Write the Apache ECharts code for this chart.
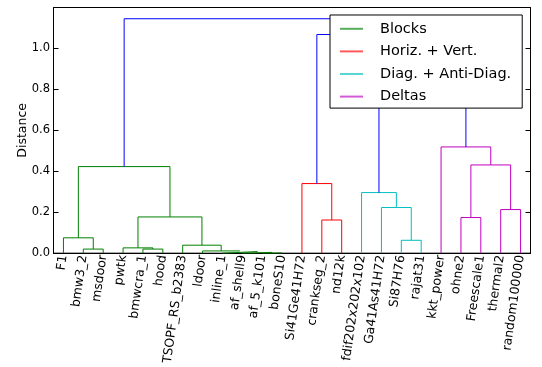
<!DOCTYPE html>
<html>
<head>
<meta charset="utf-8">
<script src="https://cdn.jsdelivr.net/npm/echarts@6/dist/echarts.min.js"></script>
<style>
  html, body { margin: 0; padding: 0; background: #fff; }
  #chart { width: 542px; height: 367px; }
</style>
</head>
<body>
<div id="chart"></div>
<script>
// Matrices, in leaf order along the x axis
const leaves = [
  'F1', 'bmw3_2', 'msdoor', 'pwtk', 'bmwcra_1', 'hood', 'TSOPF_RS_b2383',
  'ldoor', 'inline_1', 'af_shell9', 'af_5_k101', 'boneS10', 'Si41Ge41H72',
  'crankseg_2', 'nd12k', 'fdif202x202x102', 'Ga41As41H72', 'Si87H76',
  'rajat31', 'kkt_power', 'ohne2', 'Freescale1', 'thermal2', 'random100000'
];

// Linkage: merge k creates node leaves.length + k from mergeLeft[k] and mergeRight[k]
const mergeLeft   = [10,  9,  8,  7,  6,  1,  0,  4,  3, 32, 30, 13, 12, 17, 16, 15, 20, 22, 40, 19, 39, 36, 34];
const mergeRight  = [11, 24, 25, 26, 27,  2, 29,  5, 31, 28, 33, 14, 35, 18, 37, 38, 21, 23, 41, 42, 43, 44, 45];
const mergeHeight = [0.001, 0.004, 0.008, 0.011, 0.039, 0.02, 0.075, 0.02, 0.026, 0.177, 0.423,
                     0.162, 0.340, 0.063, 0.223, 0.296, 0.174, 0.213, 0.431, 0.519, 0.97, 1.068, 1.145];
// Cluster index of each merge (-1: link above the cut)
const mergeGroup  = [0, 0, 0, 0, 0, 0, 0, 0, 0, 0, 0, 1, 1, 2, 2, 2, 3, 3, 3, 3, -1, -1, -1];

const groupNames  = ['Blocks', 'Horiz. + Vert.', 'Diag. + Anti-Diag.', 'Deltas'];
const groupColors = ['#008000', '#ff0000', '#00bfbf', '#bf00bf'];
const linkColor   = '#0000ff';

const yTicks = [0, 0.2, 0.4, 0.6, 0.8, 1.0];

// Leaf positions follow the usual dendrogram convention: 5, 15, 25, ...
const nodeX = leaves.map((_, i) => 10 * i + 5);
const nodeH = leaves.map(() => 0);
const segs = groupNames.map(() => []);
const linkSegs = [];
mergeLeft.forEach((l, k) => {
  const r = mergeRight[k], h = mergeHeight[k];
  nodeX.push((nodeX[l] + nodeX[r]) / 2);
  nodeH.push(h);
  const target = mergeGroup[k] >= 0 ? segs[mergeGroup[k]] : linkSegs;
  target.push([nodeX[l], nodeH[l]], [nodeX[l], h], [nodeX[r], h], [nodeX[r], nodeH[r]], ['-', '-']);
});

const font = 'DejaVu Sans';
const series = groupNames.map((name, g) => ({
  name, type: 'line', data: segs[g], symbol: 'none', silent: true,
  color: groupColors[g], lineStyle: { color: groupColors[g], width: 1 }, z: 2
}));
series.push({
  name: 'link', type: 'line', data: linkSegs, symbol: 'none', silent: true,
  color: linkColor, lineStyle: { color: linkColor, width: 1 }, z: 2
});

const yMax = 1.2;
const chart = echarts.init(document.getElementById('chart'), null, { renderer: 'canvas' });
chart.setOption({
  animation: false,
  backgroundColor: '#fff',
  grid: { left: 53.5, right: 11.5, top: 7.5, bottom: 113, show: true, borderColor: '#000', borderWidth: 1, backgroundColor: 'transparent' },
  legend: {
    data: groupNames,
    orient: 'vertical', left: 330, top: 15,
    padding: [6.3, 11, 4, 10],
    icon: 'rect', itemWidth: 23, itemHeight: 2, itemGap: 7.6,
    itemStyle: { opacity: 0.65 },
    backgroundColor: '#fff', borderColor: '#000', borderWidth: 1, borderRadius: 0,
    textStyle: { fontFamily: font, fontSize: 14.5, color: '#000', padding: [0, 0, 0, 12], lineHeight: 14 },
    selectedMode: false, z: 10
  },
  xAxis: {
    type: 'value', min: 0, max: 240,
    axisLine: { show: true, lineStyle: { color: '#000', width: 1 } },
    axisTick: { show: false },
    splitLine: { show: false },
    axisLabel: {
      customValues: nodeX.slice(0, leaves.length),
      formatter: v => leaves[Math.round((v - 5) / 10)],
      rotate: 82, margin: 2, padding: [8, 0, 0, 0],
      fontFamily: font, fontSize: 12.5, color: '#000'
    }
  },
  yAxis: [{
    type: 'value', min: 0, max: yMax,
    name: 'Distance', nameLocation: 'middle', nameGap: 24, nameMoveOverlap: false,
    nameTextStyle: { fontFamily: font, fontSize: 12.5, color: '#000' },
    axisLine: { show: true, lineStyle: { color: '#000' } },
    axisTick: { show: true, inside: true, length: 5, customValues: yTicks, lineStyle: { color: '#000' } },
    axisLabel: { customValues: yTicks, formatter: v => v.toFixed(1), margin: 3.5, fontFamily: font, fontSize: 11.5, color: '#000' },
    splitLine: { show: false }
  }, {
    type: 'value', min: 0, max: yMax, position: 'right',
    axisLine: { show: true, lineStyle: { color: '#000' } },
    axisTick: { show: true, inside: true, length: 5, customValues: yTicks, lineStyle: { color: '#000' } },
    axisLabel: { show: false },
    splitLine: { show: false }
  }],
  series
});
</script>
</body>
</html>
